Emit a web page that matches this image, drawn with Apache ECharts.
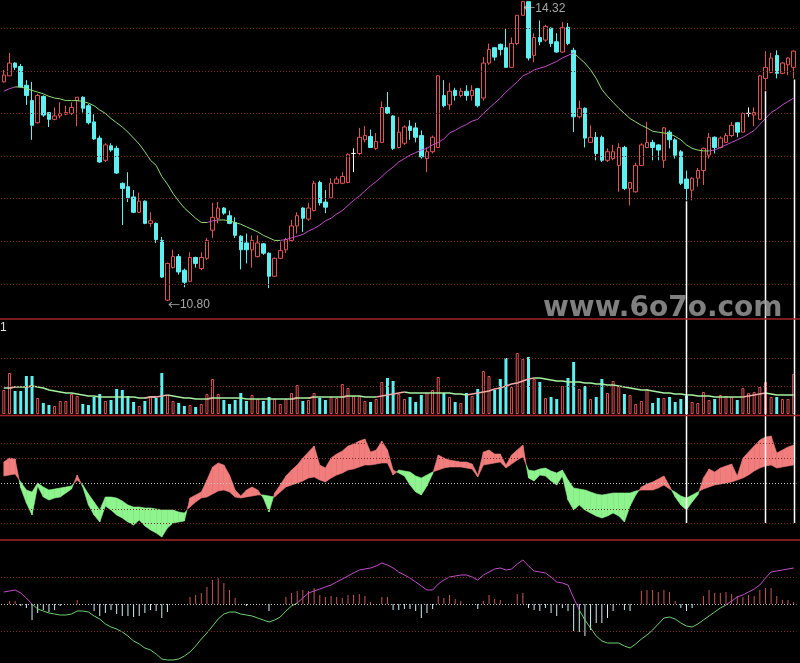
<!DOCTYPE html>
<html><head><meta charset="utf-8">
<script src="https://cdn.jsdelivr.net/npm/echarts@6/dist/echarts.min.js"></script>
<style>html,body{margin:0;padding:0;background:#000;overflow:hidden}#c{width:800px;height:663px}</style>
</head><body><div id="c"></div>
<script>
// ---------------- data ----------------
const opens = [13.37,13.44,13.59,13.55,13.33,13.15,12.89,13.20,13.01,12.93,
12.97,12.99,13.00,13.15,13.19,13.09,12.90,12.71,12.45,12.62,
12.59,12.18,12.14,12.02,11.84,11.97,11.71,11.71,11.51,10.81,
11.19,11.32,11.16,11.03,11.31,11.18,11.30,11.63,11.77,11.89,
11.80,11.72,11.56,11.48,11.40,11.32,11.47,11.36,11.09,11.30,
11.40,11.51,11.68,11.89,11.76,11.86,12.19,11.96,12.01,12.18,
12.18,12.19,12.53,12.53,12.69,12.73,12.59,12.66,13.07,12.97,
12.60,12.65,12.85,12.83,12.74,12.47,12.55,12.60,13.21,13.10,
13.27,13.21,13.26,13.21,13.29,13.18,13.59,13.77,13.81,13.77,
13.54,13.82,14.15,14.31,13.68,13.89,13.86,14.00,13.84,13.72,
14.01,13.74,12.96,13.06,12.66,12.72,12.72,12.45,12.47,12.39,
12.60,12.12,12.08,12.39,12.60,12.66,12.63,12.45,12.78,12.69,
12.55,12.23,12.10,12.24,12.33,12.51,12.72,12.60,12.66,12.74,
12.89,12.78,13.00,12.98,12.93,13.41,13.48,13.68,13.47,13.57,
13.54];
const closes = [13.45,13.59,13.54,13.31,13.21,12.86,13.21,12.98,12.93,12.97,
13.00,13.01,13.07,13.19,13.06,12.89,12.70,12.43,12.63,12.57,
12.30,12.12,12.01,11.84,11.97,11.71,11.74,11.52,11.08,11.24,
11.32,11.14,11.02,11.31,11.24,11.31,11.51,11.78,11.89,11.83,
11.71,11.57,11.40,11.40,11.51,11.48,11.36,11.09,11.30,11.39,
11.52,11.68,11.80,11.77,11.89,12.18,11.95,11.90,12.18,12.23,
12.26,12.52,12.53,12.72,12.74,12.60,12.67,13.07,13.00,12.59,
12.78,12.84,12.80,12.72,12.49,12.55,12.72,13.44,13.09,13.26,
13.21,13.26,13.21,13.27,13.09,13.59,13.75,13.66,13.75,13.54,
13.82,14.15,14.31,13.65,13.89,13.84,14.02,13.82,13.72,14.01,
13.82,12.96,13.06,12.71,12.72,12.53,12.45,12.55,12.55,12.60,
12.12,12.19,12.39,12.63,12.66,12.60,12.57,12.83,12.69,12.51,
12.18,12.12,12.24,12.33,12.59,12.72,12.60,12.71,12.74,12.86,
12.78,13.00,13.00,13.01,13.44,13.54,13.65,13.47,13.59,13.65,
13.73];
const lows = [13.36,13.44,13.51,13.30,13.10,12.69,12.88,12.96,12.84,12.92,
12.94,12.98,12.98,12.85,13.01,12.87,12.69,12.42,12.43,12.55,
12.29,11.69,11.96,11.83,11.83,11.70,11.67,11.48,11.07,10.80,
11.18,11.11,10.96,11.02,11.19,11.16,11.28,11.54,11.71,11.81,
11.70,11.54,11.17,11.24,11.19,11.31,11.34,10.95,11.08,11.29,
11.36,11.50,11.59,11.61,11.74,11.85,11.92,11.83,12.01,12.17,
12.17,12.18,12.31,12.51,12.66,12.60,12.57,12.66,13.00,12.57,
12.59,12.63,12.69,12.66,12.47,12.31,12.53,12.60,13.07,13.04,
13.15,13.19,13.15,13.15,13.07,13.15,13.57,13.62,13.68,13.54,
13.54,13.80,14.15,13.62,13.60,13.80,13.84,13.78,13.71,13.71,
13.80,12.78,12.94,12.60,12.66,12.45,12.43,12.43,12.45,12.08,
12.10,11.92,12.07,12.38,12.59,12.45,12.45,12.36,12.59,12.47,
12.16,11.98,11.98,12.14,12.16,12.47,12.53,12.59,12.65,12.72,
12.72,12.78,12.96,12.85,12.92,13.27,13.47,13.41,13.46,13.45,
13.41];
const highs = [13.51,13.71,13.60,13.58,13.39,13.37,13.23,13.21,13.01,13.07,
13.13,13.09,13.13,13.19,13.20,13.11,12.99,12.74,12.65,12.65,
12.62,12.19,12.31,12.10,12.07,11.98,11.84,11.72,11.55,11.25,
11.40,11.35,11.18,11.37,11.32,11.37,11.54,11.95,11.96,11.90,
11.86,11.78,11.57,11.59,11.57,11.57,11.48,11.37,11.31,11.49,
11.54,11.75,11.84,11.90,11.95,12.21,12.21,12.10,12.24,12.26,
12.31,12.53,12.59,12.83,12.85,12.81,12.77,13.14,13.25,12.98,
12.96,12.86,12.92,12.89,12.80,12.60,12.74,13.45,13.39,13.36,
13.30,13.30,13.33,13.33,13.30,13.66,13.82,13.78,13.82,14.00,
13.89,14.15,14.32,14.31,13.94,14.09,14.04,14.01,13.94,14.07,
14.06,13.77,13.15,13.07,12.86,12.78,12.74,12.59,12.63,12.65,
12.62,12.19,12.42,12.65,12.90,12.69,12.64,12.84,12.80,12.71,
12.57,12.33,12.25,12.36,12.60,12.77,12.73,12.73,12.77,12.90,
12.90,13.01,13.07,13.07,13.45,13.73,13.71,13.74,13.60,13.66,
13.74];
const priceMA = [13.26,13.29,13.31,13.31,13.29,13.27,13.25,13.23,13.20,13.18,
13.17,13.15,13.15,13.15,13.14,13.12,13.09,13.04,13.00,12.94,
12.89,12.84,12.78,12.71,12.64,12.55,12.45,12.39,12.26,12.17,
12.06,11.97,11.89,11.83,11.77,11.72,11.72,11.74,11.75,11.75,
11.74,11.72,11.70,11.67,11.64,11.61,11.57,11.54,11.51,11.51,
11.52,11.54,11.56,11.58,11.62,11.65,11.69,11.74,11.77,11.82,
11.86,11.92,11.98,12.03,12.09,12.15,12.20,12.26,12.32,12.37,
12.43,12.47,12.51,12.54,12.57,12.59,12.63,12.66,12.70,12.77,
12.80,12.84,12.87,12.91,12.93,13.00,13.06,13.12,13.18,13.25,
13.31,13.37,13.44,13.47,13.51,13.53,13.55,13.58,13.61,13.65,
13.68,13.71,13.65,13.59,13.51,13.41,13.28,13.20,13.13,13.06,
13.00,12.94,12.90,12.86,12.83,12.79,12.78,12.77,12.76,12.73,
12.69,12.63,12.59,12.57,12.56,12.56,12.57,12.60,12.63,12.66,
12.69,12.72,12.76,12.80,12.87,12.94,13.01,13.05,13.10,13.14,
13.18];
const volumes = [24,41,23,23,38,38,16,11,9,8,
13,13,20,18,10,9,17,20,13,14,
25,24,18,12,8,13,17,16,41,19,
13,11,8,9,7,10,20,35,20,14,
10,14,21,13,19,15,13,17,15,10,
15,21,29,13,14,21,16,14,17,16,
30,26,18,18,13,12,15,32,36,33,
20,15,17,12,19,21,24,37,21,17,
12,11,21,18,25,43,38,24,35,56,
27,61,55,57,35,32,16,17,15,28,
36,52,25,28,15,17,35,21,33,28,
20,19,10,13,25,11,16,16,17,12,
15,18,12,11,22,14,15,19,18,17,
14,26,21,22,27,32,17,17,15,15,
40];
const volumeMA = [26,26,27,27,27,28,27,26,24,23,
22,21,21,20,19,18,18,17,17,17,
17,17,17,17,16,16,17,17,18,19,
18,17,16,16,15,15,15,16,16,16,
16,16,16,15,15,15,15,15,15,15,
15,15,16,16,16,17,17,17,17,17,
17,18,18,18,17,17,17,18,19,20,
21,22,21,21,21,21,21,21,21,21,
20,20,19,20,21,22,23,25,26,28,
30,31,33,35,36,36,35,34,33,33,
32,32,32,31,31,30,30,29,29,28,
27,26,25,24,24,23,22,21,21,20,
20,19,19,18,18,18,17,17,17,17,
17,17,18,19,20,21,20,19,19,19,
19];
const bandFast = [21,25,24,-5,-20,-32,-3,-14,-17,-15,
-14,-10,-6,8,-4,-22,-32,-39,-23,-27,
-32,-35,-39,-42,-37,-43,-47,-50,-54,-45,
-40,-39,-38,-15,-12,-9,3,16,20,18,
8,-7,-13,-7,-4,-7,-15,-29,-10,-2,
7,13,18,25,31,37,18,15,25,29,
32,37,39,42,44,31,33,42,33,13,
10,7,-2,-9,-12,-3,9,28,25,23,
22,21,21,19,8,31,33,29,29,18,
28,33,38,5,2,8,7,2,-2,7,
-17,-27,-22,-27,-30,-33,-35,-33,-30,-33,
-39,-23,-12,-4,-1,1,4,7,-3,-14,
-22,-27,-19,-12,5,14,11,15,17,19,
7,25,31,37,43,46,47,30,33,36,
38];
const bandSlow = [7,8,9,1,-7,-9,0,-4,-7,-6,
-5,-4,-3,3,-2,-11,-19,-27,-14,-14,
-15,-18,-22,-24,-24,-25,-25,-26,-27,-27,
-27,-29,-30,-24,-19,-15,-14,-11,-8,-7,
-9,-14,-15,-14,-13,-12,-12,-13,-14,-9,
-4,-2,0,2,5,6,3,1,5,8,
10,13,14,16,18,18,19,20,20,8,
13,12,11,7,5,8,11,13,15,16,
16,16,15,14,6,18,19,20,21,15,
19,23,26,13,12,14,15,12,10,13,
3,-5,-6,-7,-9,-11,-12,-11,-10,-10,
-10,-10,-8,-7,-7,-7,-5,-2,-6,-9,
-13,-15,-12,-9,-6,-4,-2,-1,0,1,
3,5,8,12,15,17,18,15,16,17,
18];
const macdLine = [12,13,14,11,6,0,-5,-7,-9,-10,
-11,-11,-10,-7,-7,-8,-12,-15,-20,-23,
-25,-28,-32,-37,-40,-44,-46,-50,-55,-56,
-56,-55,-52,-48,-42,-35,-29,-22,-15,-10,
-8,-8,-10,-11,-12,-14,-16,-18,-16,-13,
-7,-2,1,6,11,13,15,17,19,22,
25,28,31,34,35,36,38,41,39,36,
32,29,26,22,18,14,14,20,24,27,
28,29,29,27,24,29,32,35,36,34,
35,40,44,38,33,32,31,27,22,21,
19,6,-6,-16,-24,-32,-37,-39,-39,-39,
-42,-44,-40,-35,-31,-26,-20,-14,-13,-15,
-19,-22,-23,-20,-16,-12,-8,-4,-1,3,
7,9,12,15,19,26,32,33,34,35,
36];
const macdHist = [0,3,3,-2,-4,-16,-9,-6,-8,-6,
-2,0,0,4,0,0,-7,-12,-9,-6,
-10,-12,-12,-13,-12,-9,-6,-7,-14,-8,
0,0,0,7,9,11,17,24,26,21,
14,6,0,-2,0,0,0,-7,0,0,
7,11,13,14,13,16,9,7,8,7,
6,9,9,10,8,2,0,7,7,-6,
-6,-5,-5,-7,-14,-9,-5,8,6,9,
5,3,0,0,-5,3,9,5,4,0,
0,10,11,-4,-6,-7,-4,-9,-12,-4,
-7,-27,-28,-32,-26,-19,-19,-14,-7,0,
-6,-7,0,13,14,14,12,14,12,3,
-4,-7,-4,0,8,14,11,11,12,10,
8,7,9,8,14,16,16,8,4,4,
2];
const signalIdx = [121,135,140];
const priceTicks = [11,11.5,12,12.5,13,13.5,14];
const volumeTicks = [28,56];
const bandTicks = [40,25,-26,-40];
const macdTicks = [27,-27];

// ---------------- style / layout ----------------
const RED='#e05454', CYAN='#5ef0f0', MAG='#c24ec8', GRN='#92dc78';
const VPINK='#f3a8a8', VGRN='#a6f0a0';
const BRED='#f27d7d', BGRN='#8ef58e';
const HRED='#c85656', HCYAN='#cdeff2';
const MPOS='#c24ec8', MNEG='#6fd06f';
const GRIDC='#7a2a2a', ZEROC='#c8c8c8', SEP='#a42626';
const LAY = [
  {top:0, height:318, min:10.6, max:14.33},
  {top:319, height:95, min:0, max:95},
  {top:415, height:125, min:-57, max:68},
  {top:540, height:123, min:-59, max:64}
];
const N = closes.length;
const cats = closes.map((_, i) => i);
const yPix = (k, v) => LAY[k].top + (LAY[k].max - v) / (LAY[k].max - LAY[k].min) * LAY[k].height;
const SIGNAL_BOTTOM = yPix(2, bandTicks[bandTicks.length - 1]);

function splitBy(arr, test){
  // test(j) true => segment j..j+1 belongs to first group
  const a=[], b=[];
  for (let i=0;i<arr.length;i++){
    const pA = i>0 && test(i-1), nA = i<arr.length-1 && test(i);
    const pB = i>0 && !test(i-1), nB = i<arr.length-1 && !test(i);
    a.push(pA||nA ? arr[i] : null);
    b.push(pB||nB ? arr[i] : null);
  }
  return [a, b];
}
function levels(vals, zero){
  const d = vals.map(v => ({yAxis:v}));
  if (zero) d.push({yAxis:0, lineStyle:{color:ZEROC}});
  return {silent:true, symbol:['none','none'], label:{show:false}, animation:false,
    lineStyle:{color:GRIDC, type:[1,2], width:1}, data:d};
}
function gridLineSeries(k, arr, vals, zero){
  return {type:'line', xAxisIndex:k, yAxisIndex:k, data:arr, symbol:'none', silent:true,
    lineStyle:{opacity:0}, z:1, markLine:levels(vals, zero)};
}
function twoColor(k, parts, cA, cB, w){
  return [
    {type:'line', xAxisIndex:k, yAxisIndex:k, data:parts[1], symbol:'none', silent:true, connectNulls:false, lineStyle:{color:cB, width:w}, z:4},
    {type:'line', xAxisIndex:k, yAxisIndex:k, data:parts[0], symbol:'none', silent:true, connectNulls:false, lineStyle:{color:cA, width:w}, z:4}
  ];
}
const rising = arr => j => arr[j+1] > arr[j];
const positive = arr => j => (arr[j] + arr[j+1]) >= 0;

const hiIdx = highs.indexOf(Math.max(...highs));
const loIdx = lows.indexOf(Math.min(...lows));

const series = [];
series.push(gridLineSeries(0, closes, priceTicks, false));
series.push({type:'candlestick', xAxisIndex:0, yAxisIndex:0, barWidth:4, silent:true, z:3,
  data: opens.map((o,i) => [o, closes[i], lows[i], highs[i]]),
  itemStyle:{color:'#000', color0:CYAN, borderColor:RED, borderColor0:CYAN, borderColorDoji:'#ffffff', borderWidth:1}});
series.push(...twoColor(0, splitBy(priceMA, rising(priceMA)), MAG, GRN, 1));
series.push({type:'scatter', xAxisIndex:0, yAxisIndex:0, symbolSize:1, silent:true, z:6,
  itemStyle:{color:'rgba(0,0,0,0)'},
  label:{show:true, position:'right', distance:0, color:'#d0d0d0',
    formatter:p => '{a|\u2190}{b|' + p.value[1].toFixed(2) + '}',
    rich:{a:{fontFamily:'Noto Sans CJK SC', fontSize:12, color:'#d0d0d0'},
          b:{fontFamily:'Liberation Sans', fontSize:12, color:'#d0d0d0'}}},
  data:[{value:[hiIdx, highs[hiIdx]], label:{offset:[0,8]}}, {value:[loIdx, lows[loIdx]], label:{offset:[0,4]}}]});
series.push({type:'custom', xAxisIndex:0, yAxisIndex:0, z:8, silent:true, clip:false,
  data: signalIdx.map(i => [i, lows[i]]),
  renderItem:(p, api) => {
    const pt = api.coord([api.value(0), api.value(1)]);
    return {type:'line', shape:{x1:Math.round(pt[0])+0.5, y1:pt[1]+1, x2:Math.round(pt[0])+0.5, y2:SIGNAL_BOTTOM},
      style:{stroke:'#ffffff', lineWidth:1.5}};
  }});
// volume
series.push(gridLineSeries(1, volumes, volumeTicks, false));
series.push({type:'bar', xAxisIndex:1, yAxisIndex:1, barWidth:3, silent:true, z:3,
  data: volumes.map((v,i) => ({value:v, itemStyle: closes[i] >= opens[i]
    ? {color:'#000', borderColor:RED, borderWidth:1} : {color:CYAN}}))});
series.push(...twoColor(1, splitBy(volumeMA, rising(volumeMA)), VPINK, VGRN, 1.5));
// band panel
series.push(gridLineSeries(2, bandFast, bandTicks, true));
series.push({type:'custom', xAxisIndex:2, yAxisIndex:2, z:3, silent:true,
  data: bandFast.map((v,i) => [i, v, bandSlow[i]]),
  encode:{x:0, y:[1,2]},
  renderItem:(params, api) => {
    const i = params.dataIndex;
    if (i >= N-1) return null;
    const a0=bandFast[i], b0=bandSlow[i], a1=bandFast[i+1], b1=bandSlow[i+1];
    const d0=a0-b0, d1=a1-b1;
    const A0=api.coord([i,a0]), B0=api.coord([i,b0]), A1=api.coord([i+1,a1]), B1=api.coord([i+1,b1]);
    const col = d => d >= 0 ? BRED : BGRN;
    const poly = (pts, c) => ({type:'polygon', shape:{points:pts}, style:{fill:c, stroke:c, lineWidth:0.6}});
    if ((d0 >= 0) === (d1 >= 0)) return poly([A0,A1,B1,B0], col(d0 + d1 === 0 ? d0 : d0 + d1));
    const t = d0 / (d0 - d1);
    const P = [A0[0] + (A1[0]-A0[0])*t, A0[1] + (A1[1]-A0[1])*t];
    return {type:'group', children:[poly([A0,P,B0], col(d0)), poly([P,A1,B1], col(d1))]};
  }});
// macd panel
series.push(gridLineSeries(3, macdLine, macdTicks, true));
series.push({type:'bar', xAxisIndex:3, yAxisIndex:3, barWidth:1, silent:true, z:3,
  data: macdHist.map(v => ({value:v, itemStyle:{color: v >= 0 ? HRED : HCYAN}}))});
series.push(...twoColor(3, splitBy(macdLine, positive(macdLine)), MPOS, MNEG, 1));

const option = {
  backgroundColor:'#000',
  animation:false,
  grid: LAY.map(g => ({left:1, width:795.5, top:g.top, height:g.height, show:false})),
  xAxis: LAY.map((g,k) => ({type:'category', gridIndex:k, data:cats, show:false, boundaryGap:true})),
  yAxis: LAY.map((g,k) => ({type:'value', gridIndex:k, min:g.min, max:g.max, show:false, splitLine:{show:false}})),
  series: series,
  graphic:[
    {type:'line', silent:true, z:50, shape:{x1:0, y1:319, x2:800, y2:319}, style:{stroke:SEP, lineWidth:1.5}},
    {type:'line', silent:true, z:50, shape:{x1:0, y1:415.5, x2:800, y2:415.5}, style:{stroke:SEP, lineWidth:1.5}},
    {type:'line', silent:true, z:50, shape:{x1:0, y1:540, x2:800, y2:540}, style:{stroke:SEP, lineWidth:1.5}},
    {type:'text', silent:true, z:60, x:543, y:309, style:{text:'www.6o7o.com', font:'bold 28px "DejaVu Sans"', fill:'rgba(150,150,150,0.85)', verticalAlign:'middle'}},
    {type:'text', silent:true, z:60, x:0, y:328, style:{text:'1', font:'12px "Liberation Sans"', fill:'#e0e0e0', verticalAlign:'middle'}}
  ]
};
const chart = echarts.init(document.getElementById('c'), null, {renderer:'canvas'});
chart.setOption(option);
</script>
</body></html>
